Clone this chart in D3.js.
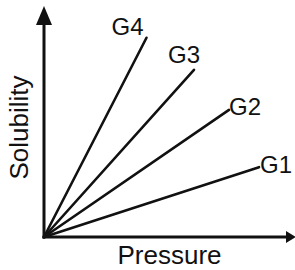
<!DOCTYPE html>
<html lang="en">
<head>
  <meta charset="UTF-8">
  <title>Solubility vs Pressure</title>
  <script src="https://d3js.org/d3.v7.min.js"></script>
  <style>
    body { margin: 0; background: #fff; }
    svg { font-family: "Liberation Sans", Arial, sans-serif; display: block; }
  </style>
</head>
<body>
  <svg></svg>
  <script>
    // gases and end points of each line (pressure, solubility), arbitrary units
    const gases = ['G1', 'G2', 'G3', 'G4'];
    const pressureEnd = [86, 74, 60, 41];
    const solubilityEnd = [30.5, 55.5, 73, 87];

    const width = 295, height = 270;
    const origin = { x: 44, y: 237 };

    const svg = d3.select('svg')
        .attr('width', width)
        .attr('height', height);

    const x = d3.scaleLinear().domain([0, 100]).range([origin.x, 294]);
    const y = d3.scaleLinear().domain([0, 100]).range([origin.y, 8]);

    const ink = '#111';

    // lines from the origin
    const data = gases.map((g, i) => ({ name: g, p: pressureEnd[i], s: solubilityEnd[i] }));

    svg.selectAll('.gas')
        .data(data)
        .enter()
        .append('line')
        .attr('class', 'gas')
        .attr('x1', x(0))
        .attr('y1', y(0))
        .attr('x2', d => x(d.p))
        .attr('y2', d => y(d.s))
        .attr('stroke', ink)
        .attr('stroke-width', 2.6)
        .attr('stroke-linecap', 'round');

    // label offsets from each line end
    const offsets = {
      G1: [1, 6],
      G2: [0, 5],
      G3: [-26, -7],
      G4: [-35, -3]
    };

    svg.selectAll('.label')
        .data(data)
        .enter()
        .append('text')
        .attr('class', 'label')
        .attr('x', d => x(d.p) + offsets[d.name][0])
        .attr('y', d => y(d.s) + offsets[d.name][1])
        .style('font-size', '24px')
        .attr('fill', ink)
        .text(d => d.name);

    // axes
    svg.append('line')
        .attr('x1', x(0) - 1.5).attr('y1', y(0))
        .attr('x2', 287).attr('y2', y(0))
        .attr('stroke', ink).attr('stroke-width', 3);
    svg.append('path')
        .attr('d', `M286,${y(0) - 6}L296,${y(0)}L286,${y(0) + 6}Z`)
        .attr('fill', ink);

    svg.append('line')
        .attr('x1', x(0)).attr('y1', y(0) + 1.5)
        .attr('x2', x(0)).attr('y2', 24)
        .attr('stroke', ink).attr('stroke-width', 3);
    svg.append('path')
        .attr('d', `M${x(0) - 8},25L${x(0)},6L${x(0) + 8},25Z`)
        .attr('fill', ink);

    svg.append('text')
        .attr('x', 169.5)
        .attr('y', 264)
        .attr('text-anchor', 'middle')
        .style('font-size', '26px')
        .attr('fill', ink)
        .text('Pressure');

    svg.append('text')
        .attr('transform', 'translate(28,127.5) rotate(-90)')
        .attr('text-anchor', 'middle')
        .style('font-size', '26px')
        .attr('fill', ink)
        .text('Solubility');
  </script>
</body>
</html>
